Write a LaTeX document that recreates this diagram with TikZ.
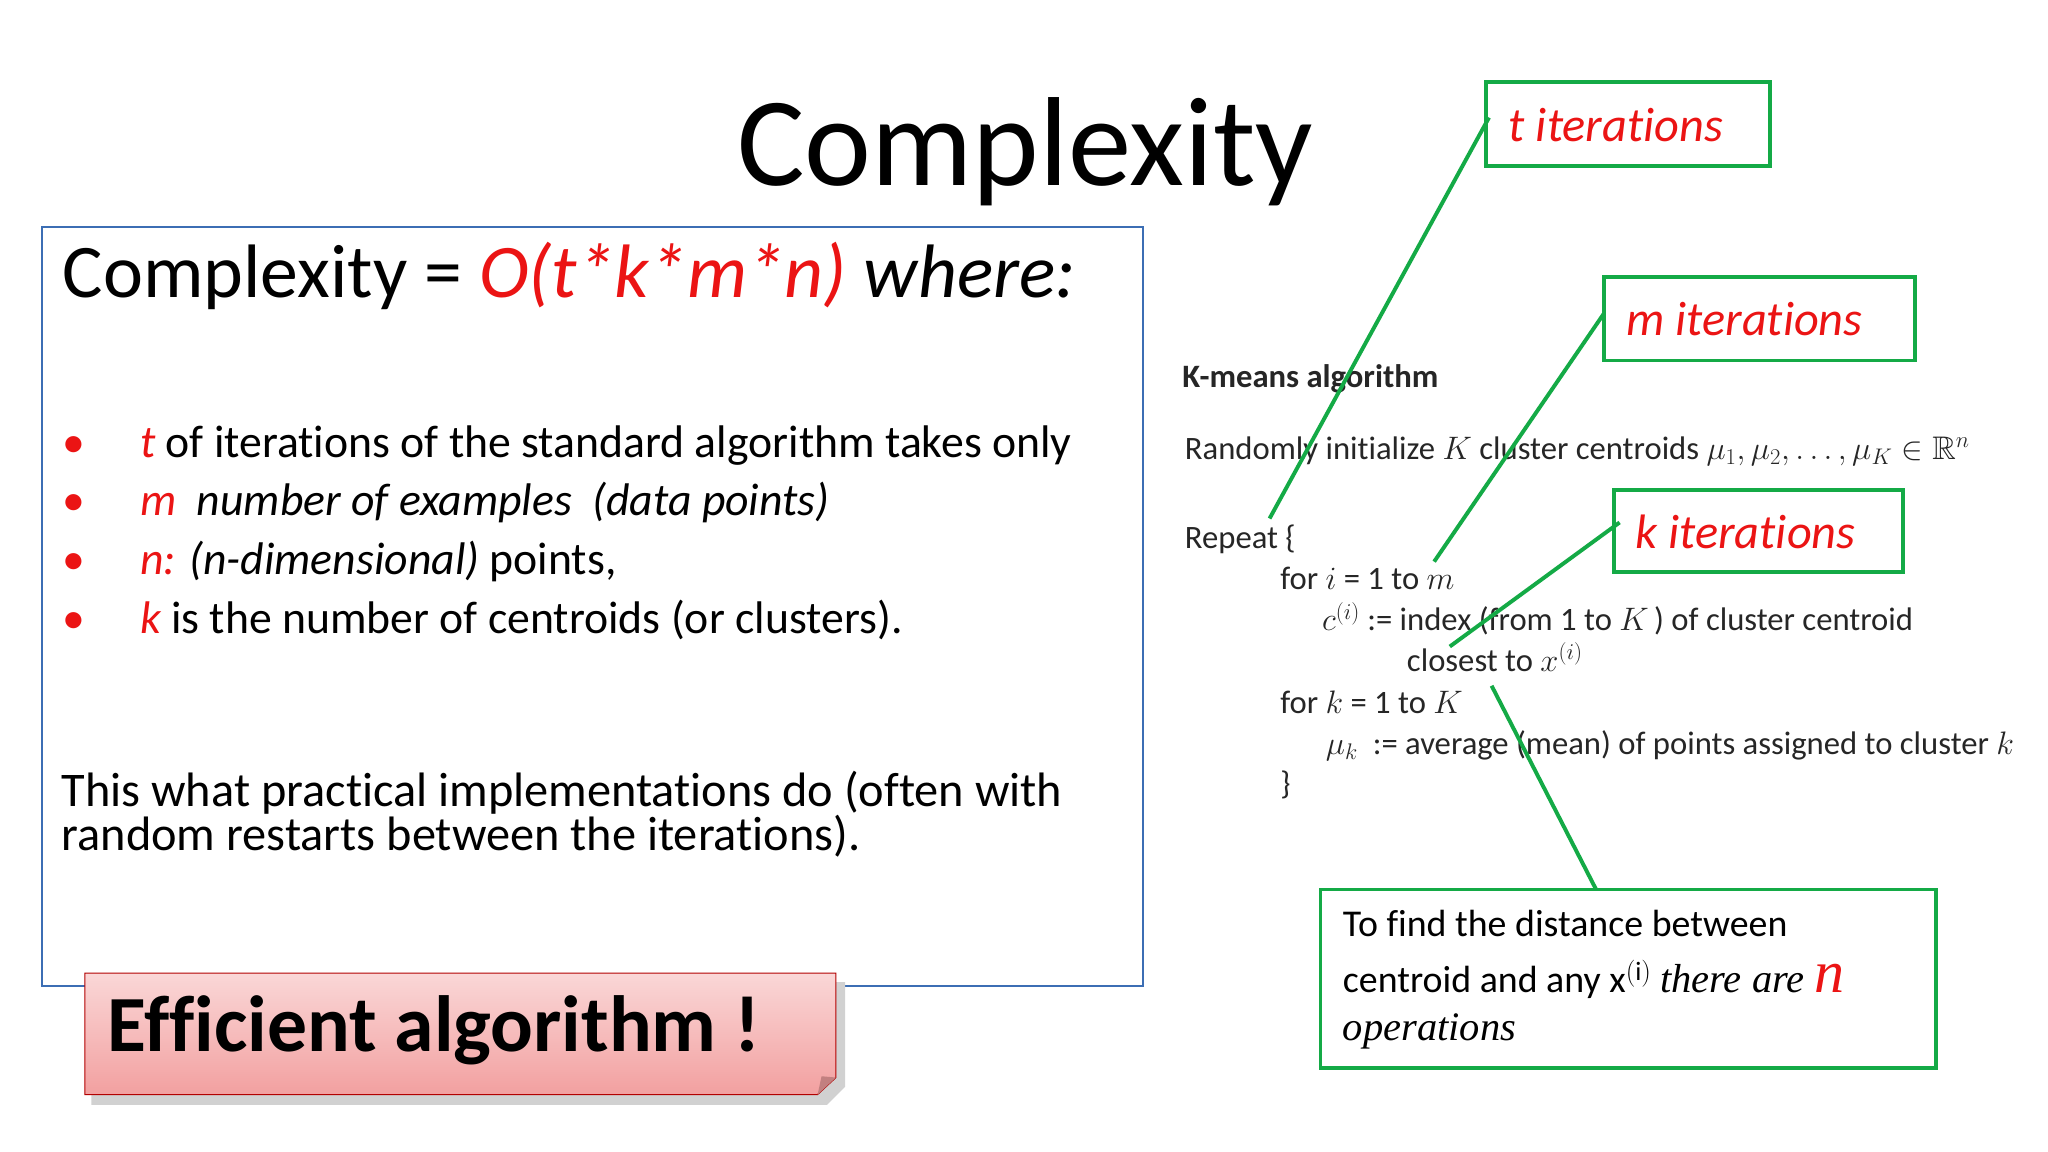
\documentclass[tikz,border=0pt]{standalone}
\usepackage{amssymb}
\usepackage{fontspec}
\setmainfont{Carlito}[Ligatures={NoCommon}]
\newfontfamily\serifit{Liberation Serif}
\usetikzlibrary{calc}
\definecolor{grn}{RGB}{20,170,70}
\definecolor{rd}{RGB}{235,20,20}
\definecolor{bl}{RGB}{60,110,180}
\definecolor{pinktop}{RGB}{250,215,215}
\definecolor{pinkbot}{RGB}{242,160,160}
\tikzset{
  gbox/.style={draw=grn,line width=3pt},
  gline/.style={draw=grn,line width=3pt},
  txt/.style={anchor=base west,inner sep=0pt},
  alg/.style={txt,font=\fontsize{25}{28}\selectfont,text=black!85},
  bul/.style={txt,font=\fontsize{35}{40}\selectfont},
  lab/.style={txt,font=\fontsize{37}{40}\selectfont\itshape,text=rd}
}
\begin{document}
\begin{tikzpicture}[x=1pt,y=-1pt]
\useasboundingbox (0,0) rectangle (1568,882);
\fill[white] (0,0) rectangle (1568,882);
\node[anchor=base,inner sep=0pt,font=\fontsize{97}{100}\selectfont] (title) at (785,142) {Complexity};
% blue box
\draw[bl,line width=1.2pt] (32,174) rectangle (875,755);
\node[txt,font=\fontsize{58}{60}\selectfont] (eq) at (48,228) {Complexity = {\color{rd}\itshape O(t*k*m*n)} \itshape where:};
\foreach \y in {350,395,440,485}{\node[bul,text=rd] at (48,\y) {\textbullet};}
\node[bul] (b1) at (107,350) {{\color{rd}\itshape t} of iterations of the standard algorithm takes only};
\node[bul] (b2) at (107,395) {\itshape{\color{rd}m}\ \ number of examples\ \ (data points)};
\node[bul] (b3) at (107,440) {{\itshape\color{rd}n:} \itshape (n-dimensional)\upshape\ points,};
\node[bul] (b4) at (107,485) {{\color{rd}\itshape k} is the number of centroids (or clusters).};
\node[bul,align=left,anchor=north west,font=\fontsize{37}{34}\selectfont] (prac) at (47,590) {This what practical implementations do (often with\\random restarts between the iterations).};
% pink box
\fill[black!18] (70,752) -- (647,752) -- (647,832) -- (633,846) -- (70,846) -- cycle;
\shade[top color=pinktop,bottom color=pinkbot,draw=red!70!black,line width=0.8pt] (65,745) -- (640,745) -- (640,825) -- (626,838) -- (65,838) -- cycle;
\fill[pinkbot!80!black] (640,825) -- (626,838) -- (629,824) -- cycle;
\node[txt,font=\fontsize{61}{64}\selectfont\bfseries] (eff) at (82,805) {Efficient algorithm !};
% algorithm
\node[alg,font=\fontsize{25}{28}\selectfont\bfseries] (km) at (905,297) {K-means algorithm};
\node[alg] (ri) at (907,352) {Randomly initialize $K$ cluster centroids $\mu_1,\mu_2,\ldots,\mu_K\in\mathbb{R}^n$};
\node[alg] (rep) at (907,420) {Repeat \{};
\node[alg] (for1) at (980,451) {for $i$ = 1 to $m$};
\node[alg] (ci) at (1012,483) {$c^{(i)}$ := index (from 1 to $K$\,) of cluster centroid};
\node[alg] (cl) at (1077,514) {closest to $x^{(i)}$};
\node[alg] (for2) at (980,546) {for $k$ = 1 to $K$};
\node[alg] (mu) at (1015,578) {$\mu_k$\ \ := average (mean) of points assigned to cluster $k$};
\node[alg] (cb) at (980,608) {\}};
% green boxes
\draw[gbox] (1138,63) rectangle (1355,127);
\node[lab] (tl) at (1155,108) {t iterations};
\draw[gbox] (1228,212) rectangle (1466,276);
\node[lab] (ml) at (1245,257) {m iterations};
\draw[gbox] (1236,375) rectangle (1457,438);
\node[lab] (kl) at (1252,420) {k iterations};
\draw[gbox] (1011,681) rectangle (1482,818);
\node[txt,font=\fontsize{29}{30}\selectfont] (d1) at (1028,717) {To find the distance between};
\node[txt,font=\fontsize{29}{30}\selectfont] (d2) at (1028,760) {centroid and any x$^{\mathrm{(i)}}$ {\serifit\itshape\fontsize{31}{31}\selectfont there are {\color{rd}\fontsize{46}{46}\selectfont n}}};
\node[txt,font=\fontsize{31}{30}\selectfont\serifit\itshape] (d3) at (1028,797) {operations};
% connectors
\coordinate (t1) at (1140,90); \coordinate (t2) at (972,397);
\coordinate (m1) at (1228,240); \coordinate (m2) at (1098,430);
\coordinate (k1) at (1240,400); \coordinate (k2) at (1110,495);
\coordinate (n1) at (1142,525); \coordinate (n2) at (1222,681);
\draw[gline] (t1) -- (t2);
\draw[gline] (m1) -- (m2);
\draw[gline] (k1) -- (k2);
\draw[gline] (n1) -- (n2);
\end{tikzpicture}
\end{document}
